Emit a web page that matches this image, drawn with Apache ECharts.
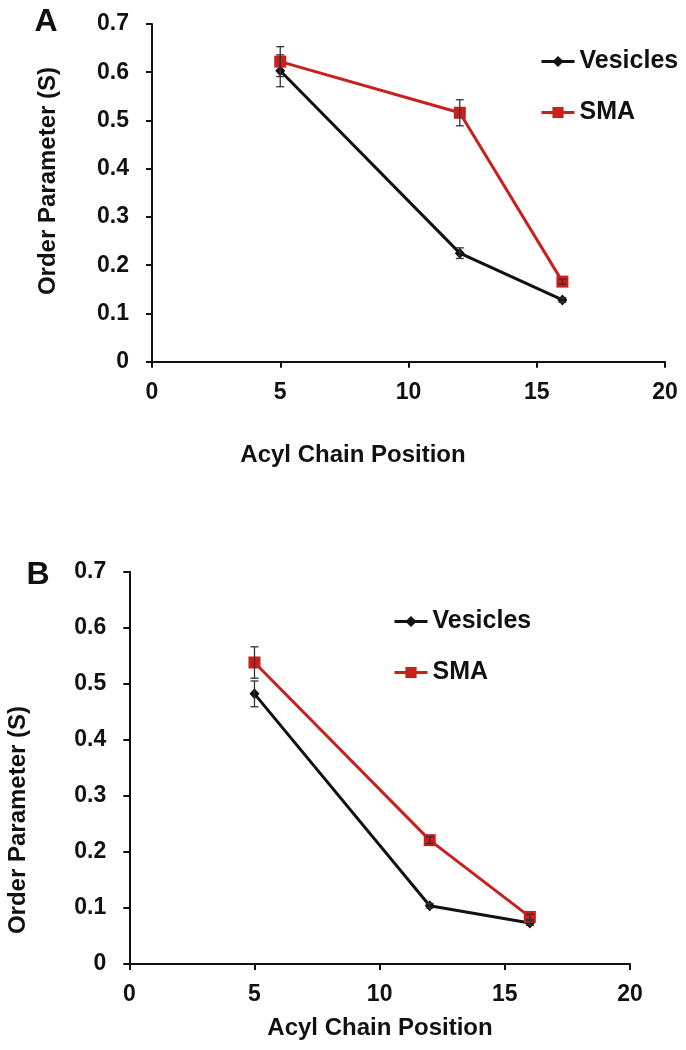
<!DOCTYPE html>
<html><head><meta charset="utf-8">
<script src="https://cdn.jsdelivr.net/npm/echarts@6/dist/echarts.min.js"></script>
<style>html,body{margin:0;padding:0;background:#fff}#c{width:686px;height:1050px}</style>
</head><body><div id="c"></div>
<script>
// ---- data ----
const positions = [5, 12, 16];
const seriesNames = ['Vesicles', 'SMA'];
const xTickLabels = [0, 5, 10, 15, 20];
const yTickLabels = [0, 0.1, 0.2, 0.3, 0.4, 0.5, 0.6, 0.7];
const panelLabels = ['A', 'B'];
const xTitle = 'Acyl Chain Position';
const yTitle = 'Order Parameter (S)';

const vesiclesA = [0.603, 0.225, 0.128];
const vesiclesAErr = [0.033, 0.011, 0.005];
const smaA = [0.622, 0.516, 0.166];
const smaAErr = [0.031, 0.027, 0.005];

const vesiclesB = [0.482, 0.104, 0.073];
const vesiclesBErr = [0.023, 0.004, 0.004];
const smaB = [0.538, 0.221, 0.084];
const smaBErr = [0.028, 0.006, 0.005];

// ---- styling ----
const FONT = '"Liberation Sans", Arial, sans-serif';
const INK = '#111';
const RED = '#C8201F';

function xAxis(gi) {
  return {
    type: 'value', gridIndex: gi,
    min: xTickLabels[0], max: xTickLabels[xTickLabels.length - 1], interval: xTickLabels[1] - xTickLabels[0],
    axisLine: { show: true, onZero: false, lineStyle: { color: INK, width: 2 } },
    axisTick: { show: true, length: 6, lineStyle: { color: INK, width: 2 } },
    axisLabel: { color: INK, fontSize: 23, fontWeight: 'bold', fontFamily: FONT, margin: 19 },
    splitLine: { show: false }
  };
}
function yAxis(gi) {
  return {
    type: 'value', gridIndex: gi,
    min: yTickLabels[0], max: yTickLabels[yTickLabels.length - 1], interval: 0.1,
    axisLine: { show: true, onZero: false, lineStyle: { color: INK, width: 2 } },
    axisTick: { show: true, length: 6, lineStyle: { color: INK, width: 2 } },
    axisLabel: { color: INK, fontSize: 23, fontWeight: 'bold', fontFamily: FONT, margin: 23,
      formatter: v => { const r = Math.round(v * 10) / 10; return r === 0 ? '0' : r.toFixed(1); } },
    splitLine: { show: false }
  };
}
function lineSeries(name, vals, gi, isSMA) {
  return {
    name: name, type: 'line', xAxisIndex: gi, yAxisIndex: gi,
    data: positions.map((p, i) => [p, vals[i]]),
    symbol: isSMA ? 'rect' : 'diamond',
    symbolSize: isSMA ? 12 : [10, 11],
    lineStyle: { color: isSMA ? RED : INK, width: 3 },
    itemStyle: { color: isSMA ? RED : INK },
    z: isSMA ? 3 : 2,
    animation: false
  };
}
function errRender(params, api) {
  const x = api.value(0), lo = api.value(1), hi = api.value(2);
  const a = api.coord([x, lo]), b = api.coord([x, hi]);
  const w = 4;
  const st = { stroke: '#333', lineWidth: 1.3 };
  return { type: 'group', children: [
    { type: 'line', shape: { x1: a[0], y1: a[1], x2: b[0], y2: b[1] }, style: st },
    { type: 'line', shape: { x1: a[0] - w, y1: a[1], x2: a[0] + w, y2: a[1] }, style: st },
    { type: 'line', shape: { x1: b[0] - w, y1: b[1], x2: b[0] + w, y2: b[1] }, style: st }
  ]};
}
function errSeries(vals, errs, gi) {
  return {
    type: 'custom', xAxisIndex: gi, yAxisIndex: gi,
    data: positions.map((p, i) => [p, vals[i] - errs[i], vals[i] + errs[i]]),
    encode: { x: 0, y: [1, 2] },
    renderItem: errRender, z: 5, silent: true, animation: false
  };
}
function legend(left, top) {
  return {
    left: left, top: top, orient: 'vertical', itemGap: 26, itemWidth: 33, itemHeight: 14,
    data: seriesNames, selectedMode: false,
    lineStyle: { width: 3 },
    textStyle: { fontSize: 25, fontWeight: 'bold', color: INK, fontFamily: FONT }
  };
}
function txt(s, x, y, size, rot) {
  return { type: 'text', x: x, y: y, rotation: rot || 0,
    style: { text: s, font: 'bold ' + size + 'px ' + FONT, fill: INK, align: 'center', verticalAlign: 'middle' } };
}

const option = {
  backgroundColor: '#fff',
  animation: false,
  grid: [
    { left: 152, top: 24, width: 513, height: 337.7 },
    { left: 129.3, top: 571.7, width: 500.7, height: 392.3 }
  ],
  xAxis: [xAxis(0), xAxis(1)],
  yAxis: [yAxis(0), yAxis(1)],
  legend: [legend(535, 44), legend(388, 604)],
  series: [
    lineSeries(seriesNames[0], vesiclesA, 0, false),
    lineSeries(seriesNames[1], smaA, 0, true),
    errSeries(vesiclesA, vesiclesAErr, 0),
    errSeries(smaA, smaAErr, 0),
    lineSeries(seriesNames[0], vesiclesB, 1, false),
    lineSeries(seriesNames[1], smaB, 1, true),
    errSeries(vesiclesB, vesiclesBErr, 1),
    errSeries(smaB, smaBErr, 1)
  ],
  graphic: [
    txt(panelLabels[0], 46, 22, 32),
    txt(panelLabels[1], 38, 575, 32),
    txt(xTitle, 353, 455, 24),
    txt(xTitle, 380, 1028, 24),
    txt(yTitle, 48, 181, 24, Math.PI / 2),
    txt(yTitle, 18, 820, 24, Math.PI / 2)
  ]
};
const chart = echarts.init(document.getElementById('c'), null, { renderer: 'canvas' });
chart.setOption(option);
</script>
</body></html>
